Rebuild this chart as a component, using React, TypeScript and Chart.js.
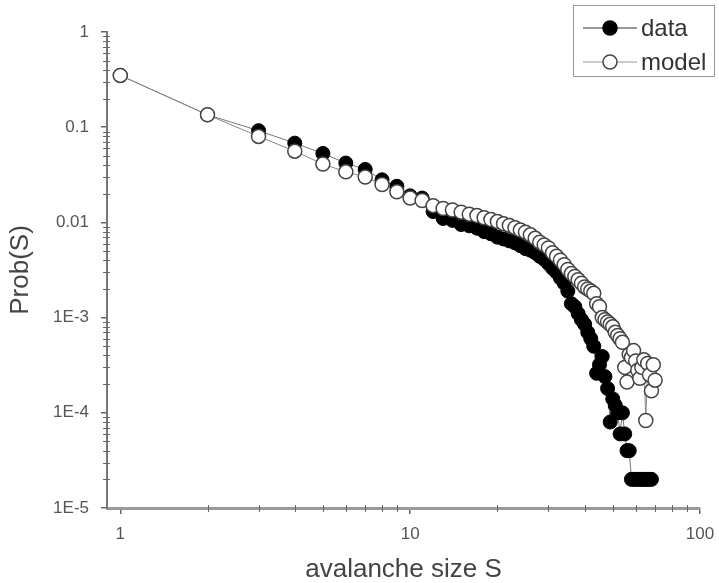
import React, { useEffect, useRef } from "react";
import { Chart, registerables } from "chart.js";

Chart.register(...registerables);

const SIZES = [
  1, 2, 3, 4, 5, 6, 7, 8, 9, 10,
  11, 12, 13, 14, 15, 16, 17, 18, 19, 20,
  21, 22, 23, 24, 25, 26, 27, 28, 29, 30,
  31, 32, 33, 34, 35, 36, 37, 38, 39, 40,
  41, 42, 43, 44, 45, 46, 47, 48, 49, 50,
  51, 52, 53, 54, 55, 56, 57, 58, 59, 60,
  61, 62, 63, 64, 65, 66, 67, 68, 69, 70,
];

const DATA_PROB = [
  0.35, 0.135, 0.092, 0.068, 0.053, 0.042, 0.036, 0.028, 0.024, 0.019,
  0.018, 0.013, 0.011, 0.0105, 0.0095, 0.0092, 0.0087, 0.008, 0.0076, 0.007,
  0.0067, 0.0064, 0.0061, 0.0057, 0.0053, 0.0051, 0.0048, 0.0044, 0.0041, 0.0037,
  0.0033, 0.003, 0.0026, 0.0023, 0.0019, 0.0014, 0.0013, 0.0011, 0.00095, 0.00085,
  0.0007, 0.0006, 0.0005, 0.00026, 0.00032, 0.00039, 0.00024, 0.00018, 0.00008, 0.00014,
  0.00012, 0.0001, 0.00006, 0.0001, 0.00006, 0.00004, 0.00004, 0.00002, 0.00002, 0.00002,
  0.00002, 0.00002, 0.00002, 0.00002, 0.00002, 0.00002, 0.00002, 0.00002, null, null,
];

const MODEL_PROB = [
  0.35, 0.135, 0.08, 0.056, 0.041, 0.034, 0.03, 0.025, 0.021, 0.018,
  0.017, 0.015, 0.014, 0.0135, 0.0128, 0.0122, 0.0118, 0.0112, 0.0107, 0.0102,
  0.0097, 0.0093, 0.0088, 0.0083, 0.0079, 0.0074, 0.0068, 0.0062, 0.0058, 0.0054,
  0.0048, 0.0044, 0.004, 0.0036, 0.0032, 0.0029, 0.0027, 0.0025, 0.0023, 0.0021,
  0.002, 0.0019, 0.0018, 0.0014, 0.0013, 0.001, 0.00095, 0.0009, 0.00085, 0.0008,
  0.0007, 0.00065, 0.0006, 0.00055, 0.0003, 0.00021, 0.00041, 0.00038, 0.00045, 0.00035,
  0.00028, 0.00023, 0.0003, 0.00036, 0.000083, 0.00033, 0.00025, 0.00017, 0.00032, 0.00022,
];

const SERIES_LABELS = ["data", "model"];
const X_TICKS = [1, 10, 100];
const X_TICK_LABELS = ["1", "10", "100"];
const Y_TICKS = [1, 0.1, 0.01, 0.001, 0.0001, 0.00001];
const Y_TICK_LABELS = ["1", "0.1", "0.01", "1E-3", "1E-4", "1E-5"];
const X_TITLE = "avalanche size S";
const Y_TITLE = "Prob(S)";

const FONT = "'Liberation Sans', Arial, Helvetica, sans-serif";

function labelFor(ticks: number[], labels: string[], v: number): string {
  const i = ticks.findIndex((t) => Math.abs(Math.log10(t) - Math.log10(v)) < 1e-6);
  return i >= 0 ? labels[i] : "";
}

const minorTicksPlugin = {
  id: "minorTicks",
  afterDraw(chart: any) {
    const { ctx } = chart;
    const x = chart.scales.x;
    const y = chart.scales.y;
    ctx.save();
    ctx.strokeStyle = "#666";
    ctx.lineWidth = 1;
    ctx.beginPath();
    for (let e = 0; e < 2; e++) {
      const d = Math.pow(10, e);
      for (let m = 2; m <= 9; m++) {
        const px = Math.round(x.getPixelForValue(d * m)) + 0.5;
        ctx.moveTo(px, y.bottom - 3);
        ctx.lineTo(px, y.bottom + 4);
      }
    }
    for (let e = -5; e < 0; e++) {
      const d = Math.pow(10, e);
      for (let m = 2; m <= 9; m++) {
        const py = Math.round(y.getPixelForValue(d * m)) + 0.5;
        ctx.moveTo(x.left - 4, py);
        ctx.lineTo(x.left + 3, py);
      }
    }
    ctx.stroke();
    ctx.restore();
  },
};

const legendPlugin = {
  id: "boxLegend",
  afterDraw(chart: any) {
    const { ctx } = chart;
    const ds = chart.data.datasets;
    ctx.save();
    ctx.strokeStyle = "#999";
    ctx.lineWidth = 1;
    ctx.strokeRect(573.5, 5.5, 141, 71);
    const rows = [
      { y: 28, line: "#333", fill: "#000", stroke: "#000" },
      { y: 62, line: "#999", fill: "#fff", stroke: "#444" },
    ];
    rows.forEach((r, i) => {
      ctx.strokeStyle = r.line;
      ctx.lineWidth = 1.2;
      ctx.beginPath();
      ctx.moveTo(583, r.y);
      ctx.lineTo(637, r.y);
      ctx.stroke();
      ctx.beginPath();
      ctx.arc(610, r.y, 7, 0, Math.PI * 2);
      ctx.fillStyle = r.fill;
      ctx.fill();
      ctx.strokeStyle = r.stroke;
      ctx.lineWidth = 1.5;
      ctx.stroke();
      ctx.fillStyle = "#333";
      ctx.font = `24px ${FONT}`;
      ctx.textAlign = "left";
      ctx.textBaseline = "middle";
      ctx.fillText(ds[i].label, 641, r.y + 1);
    });
    ctx.restore();
  },
};

export default function App() {
  const ref = useRef<HTMLCanvasElement | null>(null);

  useEffect(() => {
    if (!ref.current) return;
    const toPoints = (vals: (number | null)[]) =>
      SIZES.map((s, i) => ({ x: s, y: vals[i] })).filter((p) => p.y !== null);

    const chart = new Chart(ref.current, {
      type: "line",
      data: {
        datasets: [
          {
            label: SERIES_LABELS[0],
            data: toPoints(DATA_PROB) as any,
            borderColor: "#777",
            borderWidth: 1,
            pointRadius: 7,
            pointBackgroundColor: "#000",
            pointBorderColor: "#000",
            pointBorderWidth: 1,
            fill: false,
            tension: 0,
            order: 1,
          },
          {
            label: SERIES_LABELS[1],
            data: toPoints(MODEL_PROB) as any,
            borderColor: "#888",
            borderWidth: 1,
            pointRadius: 7,
            pointBackgroundColor: "#fff",
            pointBorderColor: "#444",
            pointBorderWidth: 1.5,
            fill: false,
            tension: 0,
            order: 0,
          },
        ],
      },
      options: {
        responsive: false,
        animation: false,
        parsing: true,
        layout: { padding: { top: 32, right: 19, left: 0, bottom: 0 } },
        plugins: {
          legend: { display: false },
          tooltip: { enabled: false },
        },
        scales: {
          x: {
            type: "logarithmic",
            min: 0.9,
            max: 100,
            afterBuildTicks: (s: any) => {
              s.ticks = X_TICKS.map((v) => ({ value: v }));
            },
            afterFit: (s: any) => {
              s.height = 75;
              s.paddingLeft = 0;
              s.paddingRight = 0;
            },
            ticks: {
              autoSkip: false,
              maxRotation: 0,
              padding: 10,
              color: "#555",
              font: { size: 17, family: FONT },
              callback: (v: any) => labelFor(X_TICKS, X_TICK_LABELS, Number(v)),
            },
            grid: { drawOnChartArea: false, tickLength: 6, color: "#666", lineWidth: 1.5 },
            border: { color: "#999", width: 3 },
            title: {
              display: true,
              text: X_TITLE,
              color: "#444",
              padding: 0,
              font: { size: 26, family: FONT, lineHeight: 1 },
            },
          },
          y: {
            type: "logarithmic",
            min: 0.00001,
            max: 1,
            afterBuildTicks: (s: any) => {
              s.ticks = Y_TICKS.map((v) => ({ value: v }));
            },
            afterFit: (s: any) => {
              s.width = 107;
              s.paddingTop = 0;
              s.paddingBottom = 0;
            },
            ticks: {
              autoSkip: false,
              padding: 12,
              color: "#555",
              font: { size: 17, family: FONT },
              callback: (v: any) => labelFor(Y_TICKS, Y_TICK_LABELS, Number(v)),
            },
            grid: { drawOnChartArea: false, tickLength: 6, color: "#666", lineWidth: 1.5 },
            border: { color: "#777", width: 2 },
            title: {
              display: true,
              text: Y_TITLE,
              color: "#444",
              padding: { top: 8, bottom: 0 },
              font: { size: 26, family: FONT, lineHeight: 1 },
            },
          },
        },
      },
      plugins: [minorTicksPlugin, legendPlugin],
    });
    return () => chart.destroy();
  }, []);

  return (
    <div style={{ position: "absolute", left: 0, top: 0, width: 719, height: 583 }}>
      <canvas ref={ref} width={719} height={583} />
    </div>
  );
}
